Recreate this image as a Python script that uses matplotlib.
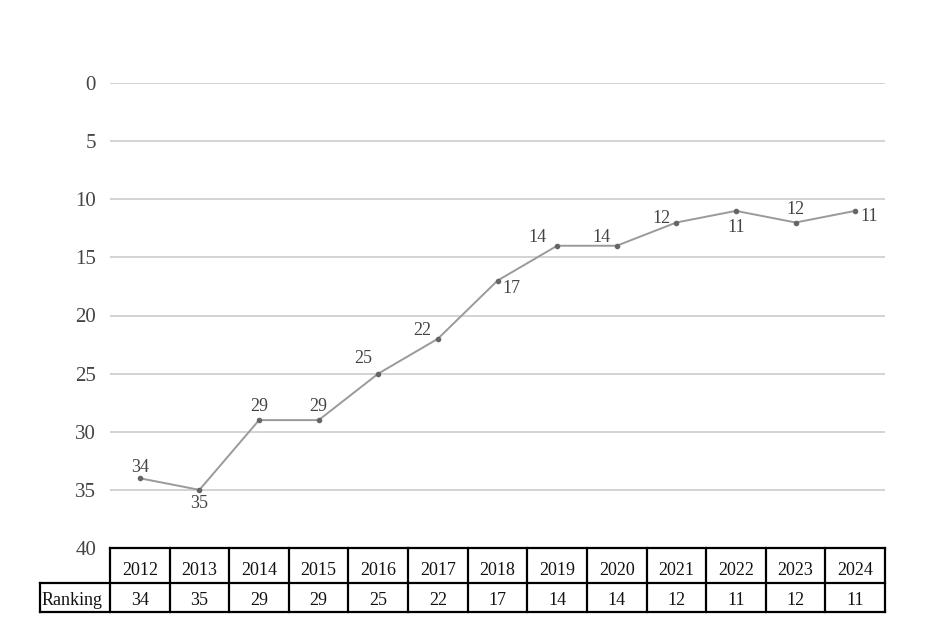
import numpy as np
from matplotlib import pyplot as plt
import matplotlib.transforms as mtrans

plt.rcParams['font.family'] = ['Liberation Serif', 'DejaVu Serif']

years = ['2012', '2013', '2014', '2015', '2016', '2017', '2018',
         '2019', '2020', '2021', '2022', '2023', '2024']
ranking = [34, 35, 29, 29, 25, 22, 17, 14, 14, 12, 11, 12, 11]
row_label = 'Ranking'

# label offsets in points (dx, dy) per point
offsets = [(0, 8), (0, -10), (0, 10), (0, 10), (-11, 11), (-11, 6), (10, -6),
           (-14, 6), (-11, 6), (-11, 3), (0, -12), (0, 9), (10, -4)]

x = np.arange(len(years))

fig = plt.figure(figsize=(9.36, 6.28), dpi=100)
ax = fig.add_axes([110/936, 1-548/628, 775/936, 465/628])

ax.plot(x, ranking, color='#9a9a9a', lw=1.4, marker='o', ms=3,
        mfc='#666666', mec='#666666', zorder=3)
for xi, r, (dx, dy) in zip(x, ranking, offsets):
    ax.annotate(str(r), (xi, r), xytext=(dx, dy), textcoords='offset points',
                ha='center', va='center', fontsize=13, color='#444444')

ax.set_xlim(-0.5, len(years)-0.5)
ax.set_ylim(40, 0)
ax.set_yticks(range(0, 41, 5))
ax.set_xticks([])
ax.grid(axis='y', color='#cccccc', lw=1.2)
ax.set_axisbelow(True)
for s in ax.spines.values():
    s.set_visible(False)
ax.tick_params(axis='y', length=0, pad=10, labelsize=15, labelcolor='#444444')

# table below the plot: data x, axes y
tr = mtrans.blended_transform_factory(ax.transData, ax.transAxes)
y0, y1, y2 = 0, -35/465, -64/465
lab_left = -0.5 - 70/59.6
kw = dict(transform=tr, color='black', lw=1.6, clip_on=False)
ax.plot([-0.5, len(years)-0.5], [y0, y0], **kw)
ax.plot([lab_left, len(years)-0.5], [y1, y1], **kw)
ax.plot([lab_left, len(years)-0.5], [y2, y2], **kw)
ax.plot([lab_left, lab_left], [y1, y2], **kw)
for i in range(len(years)+1):
    ax.plot([i-0.5, i-0.5], [y0, y2], **kw)
for xi, yr, r in zip(x, years, ranking):
    ax.text(xi, y1 + 4/465, yr, transform=tr, ha='center', va='bottom',
            fontsize=13, color='#111111', clip_on=False)
    ax.text(xi, y2 + 3/465, str(r), transform=tr, ha='center', va='bottom',
            fontsize=13, color='#111111', clip_on=False)
ax.text(lab_left + 0.03, y2 + 3/465, row_label, transform=tr,
        ha='left', va='bottom', fontsize=13, color='#111111', clip_on=False)

fig.savefig('out.png', dpi=100)
